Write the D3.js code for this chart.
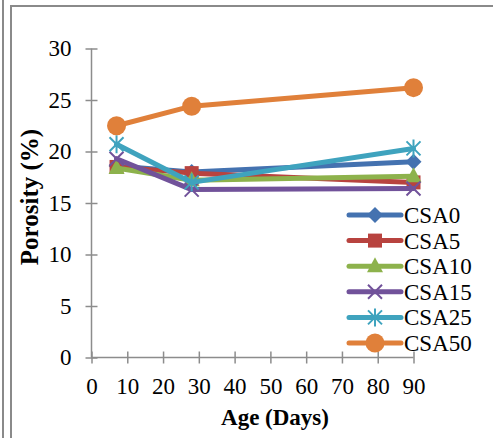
<!DOCTYPE html>
<html><head><meta charset="utf-8">
<script src="https://cdn.jsdelivr.net/npm/d3@7"></script>
<style>body{margin:0;background:#fff}svg{display:block}</style>
</head><body><svg id="c" width="493" height="438"></svg>
<script>
const ages = [7, 28, 90];
const seriesNames = ["CSA0","CSA5","CSA10","CSA15","CSA25","CSA50"];
const CSA0  = [18.6, 18.0, 19.0];
const CSA5  = [18.5, 17.9, 17.0];
const CSA10 = [18.4, 17.2, 17.6];
const CSA15 = [19.3, 16.3, 16.4];
const CSA25 = [20.7, 17.0, 20.3];
const CSA50 = [22.5, 24.4, 26.2];
const xTicks = [0,10,20,30,40,50,60,70,80,90];
const yTicks = [0,5,10,15,20,25,30];
const colors = ["#4472B0","#B8433F","#8DB24C","#71529A","#3FA3BE","#E0803A"];
const markers = ["diamond","square","triangle","x","asterisk","circle"];
const values = [CSA0, CSA5, CSA10, CSA15, CSA25, CSA50];

const svg = d3.select("#c");
const font = "'Liberation Serif','Times New Roman',serif";
// frame
svg.append("line").attr("x1",3).attr("x2",3).attr("y1",0).attr("y2",438).attr("stroke","#8a8a8a").attr("stroke-width",2);
svg.append("line").attr("x1",11).attr("x2",11).attr("y1",5).attr("y2",438).attr("stroke","#8a8a8a").attr("stroke-width",2);
svg.append("line").attr("x1",10).attr("x2",493).attr("y1",6).attr("y2",6).attr("stroke","#8a8a8a").attr("stroke-width",2);

const x = d3.scaleLinear().domain([0,90]).range([91.5,413.5]);
const y = d3.scaleLinear().domain([0,30]).range([357.5,48.5]);
const axisColor = "#8c8c8c";

// y axis
const ya = svg.append("g").attr("transform","translate(91.5,0)")
  .call(d3.axisLeft(y).tickValues(yTicks).tickSize(6).tickPadding(14));
ya.select(".domain").attr("stroke",axisColor).attr("stroke-width",1.5).attr("d","M0,48.5V357.5");
ya.selectAll(".tick line").attr("stroke",axisColor).attr("stroke-width",1.5).attr("x1",6).attr("x2",-6);
ya.selectAll(".tick text").attr("font-family",font).attr("font-size",23).attr("fill","#000").attr("x",-20);

// x axis
const xa = svg.append("g").attr("transform","translate(0,357.5)")
  .call(d3.axisBottom(x).tickValues(xTicks).tickSize(6).tickPadding(14));
xa.select(".domain").attr("stroke",axisColor).attr("stroke-width",1.5).attr("d","M91.5,0H413.5");
xa.selectAll(".tick line").attr("stroke",axisColor).attr("stroke-width",1.5).attr("y1",-6).attr("y2",6);
xa.selectAll(".tick text").attr("font-family",font).attr("font-size",23).attr("fill","#000");

// titles
svg.append("text").attr("transform","translate(38,197) rotate(-90)").attr("text-anchor","middle")
  .attr("font-family",font).attr("font-weight","bold").attr("font-size",25).text("Porosity (%)");
svg.append("text").attr("x",275).attr("y",425).attr("text-anchor","middle")
  .attr("font-family",font).attr("font-weight","bold").attr("font-size",23).text("Age (Days)");

function drawMarker(g, type, cx, cy, color){
  if(type==="diamond"){
    g.append("path").attr("d",`M${cx},${cy-8}L${cx+8},${cy}L${cx},${cy+8}L${cx-8},${cy}Z`).attr("fill",color);
  } else if(type==="square"){
    g.append("rect").attr("x",cx-7).attr("y",cy-7).attr("width",14).attr("height",14).attr("fill",color);
  } else if(type==="triangle"){
    g.append("path").attr("d",`M${cx},${cy-9}L${cx+8},${cy+6}L${cx-8},${cy+6}Z`).attr("fill",color);
  } else if(type==="x"){
    g.append("path").attr("d",`M${cx-7},${cy-7}L${cx+7},${cy+7}M${cx+7},${cy-7}L${cx-7},${cy+7}`).attr("stroke",color).attr("stroke-width",2);
  } else if(type==="asterisk"){
    g.append("path").attr("d",`M${cx-7},${cy-7}L${cx+7},${cy+7}M${cx+7},${cy-7}L${cx-7},${cy+7}M${cx},${cy-9}V${cy+9}`).attr("stroke",color).attr("stroke-width",2);
  } else {
    g.append("circle").attr("cx",cx).attr("cy",cy).attr("r",9.5).attr("fill",color);
  }
}

const line = d3.line().x((d,i)=>x(ages[i])).y(d=>y(d));
values.forEach((vals,k)=>{
  const g = svg.append("g");
  g.append("path").attr("d",line(vals)).attr("fill","none").attr("stroke",colors[k])
   .attr("stroke-width",5).attr("stroke-linejoin","round").attr("stroke-linecap","round");
  vals.forEach((v,i)=>drawMarker(g, markers[k], x(ages[i]), y(v), colors[k]));
});

// legend
seriesNames.forEach((name,k)=>{
  const ly = 215 + k*25.6;
  const g = svg.append("g");
  g.append("line").attr("x1",349).attr("x2",401).attr("y1",ly).attr("y2",ly)
   .attr("stroke",colors[k]).attr("stroke-width",5).attr("stroke-linecap","round");
  drawMarker(g, markers[k], 375, ly, colors[k]);
  g.append("text").attr("x",404).attr("y",ly+8).attr("font-family",font).attr("font-size",23).text(name);
});
</script></body></html>
